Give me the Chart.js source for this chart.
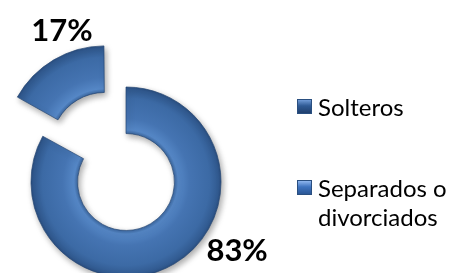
<!DOCTYPE html>
<html>
<head>
<meta charset="utf-8" />
<title>Estado civil</title>
<style>
  html, body { margin: 0; padding: 0; background: #fff; }
  #wrap { position: relative; width: 453px; height: 273px; overflow: hidden; }
  #legend { position: absolute; left: 297px; top: 0; font-family: Lato, "Open Sans", sans-serif; font-size: 24px; line-height: 29px; color: #000; }
  .item { position: absolute; left: 0; display: flex; align-items: flex-start; }
  .box { flex: none; width: 15px; height: 15px; margin-top: 7px; margin-right: 6px; box-sizing: border-box;
         border: 1px solid #2a4f80; }
  .txt { width: 150px; }
</style>
<script src="https://cdn.jsdelivr.net/npm/chart.js@4.4.1/dist/chart.umd.min.js"></script>
</head>
<body>
<div id="wrap">
  <canvas id="chart" width="453" height="273"></canvas>
  <div id="legend"></div>
</div>

<script>
// data
var labels = ['Solteros', 'Separados o divorciados'];
var values = [83, 17];
// chart.js shifts a slice by roughly a quarter of this value
var sliceOffsets = [0, 167];

// legend entries: top of each item, marker look
var legendTops = [92, 173];
var markerFills = [
    'linear-gradient(180deg, #6f9ad6 0%, #2f5a94 45%, #20406e 100%)',
    'linear-gradient(180deg, #8fb6ee 0%, #3f74c0 45%, #2b5796 100%)'
];

var total = values.reduce(function (a, b) { return a + b; }, 0);

// arc draw is already translated, but its radii grow a little with the offset
function radiusGrow(i) {
    var circ = values[i] / total * Math.PI * 2;
    var fix = 1 - Math.sin(Math.min(Math.PI, circ));
    return sliceOffsets[i] / 4 * fix;
}

function sliceGradient(ctx) {
    var chart = ctx.chart;
    var area = chart.chartArea;
    if (!area || ctx.dataIndex === undefined) return '#3d6ca8';
    var cx = (area.left + area.right) / 2;
    var cy = (area.top + area.bottom) / 2;
    var r = radiusGrow(ctx.dataIndex);
    var g = chart.ctx.createRadialGradient(cx, cy, 46 + r, cx, cy, 96 + r);
    g.addColorStop(0, '#2a5185');
    g.addColorStop(0.12, '#5587c6');
    g.addColorStop(0.35, '#4574b2');
    g.addColorStop(0.75, '#3c6aa5');
    g.addColorStop(0.93, '#315a90');
    g.addColorStop(1, '#27497a');
    return g;
}

var shadowPlugin = {
    id: 'shadow',
    beforeDatasetsDraw: function (chart) {
        var c = chart.ctx;
        c.save();
        c.shadowColor = 'rgba(0,0,0,0.35)';
        c.shadowBlur = 6;
        c.shadowOffsetX = 2;
        c.shadowOffsetY = 3;
    },
    afterDatasetsDraw: function (chart) {
        chart.ctx.restore();
    }
};

// percentage labels placed around the ring (angle from top, clockwise, and distance from centre)
var pctPlugin = {
    id: 'pct',
    afterDatasetsDraw: function (chart, args, opts) {
        var area = chart.chartArea;
        var cx = (area.left + area.right) / 2;
        var cy = (area.top + area.bottom) / 2;
        var c = chart.ctx;
        c.save();
        c.font = 'bold 31px Lato, "Open Sans", sans-serif';
        c.fillStyle = '#000';
        c.textAlign = 'center';
        c.textBaseline = 'middle';
        values.forEach(function (v, i) {
            var p = opts.places[i];
            var a = p.angle * Math.PI / 180;
            var x = cx + Math.sin(a) * p.dist;
            var y = cy - Math.cos(a) * p.dist;
            c.fillText(Math.round(v / total * 100) + '%', x, y);
        });
        c.restore();
    }
};

new Chart(document.getElementById('chart'), {
    type: 'doughnut',
    data: {
        labels: labels,
        datasets: [{
            data: values,
            offset: sliceOffsets,
            backgroundColor: sliceGradient,
            borderColor: 'rgba(35,70,115,0.7)',
            borderWidth: 1,
            clip: false
        }]
    },
    options: {
        responsive: false,
        animation: false,
        radius: 95,
        cutout: '51%',
        layout: { padding: { left: 0, right: 201, top: 91, bottom: 0 } },
        plugins: {
            legend: { display: false },
            tooltip: { enabled: false },
            pct: { places: [{ angle: 122, dist: 131 }, { angle: -23, dist: 164 }] }
        }
    },
    plugins: [shadowPlugin, pctPlugin]
});

// html legend built from the labels
var legend = document.getElementById('legend');
labels.forEach(function (name, i) {
    var item = document.createElement('div');
    item.className = 'item';
    item.style.top = legendTops[i] + 'px';
    var box = document.createElement('span');
    box.className = 'box';
    box.style.background = markerFills[i];
    var txt = document.createElement('span');
    txt.className = 'txt';
    txt.textContent = name;
    item.appendChild(box);
    item.appendChild(txt);
    legend.appendChild(item);
});
</script>
</body>
</html>
